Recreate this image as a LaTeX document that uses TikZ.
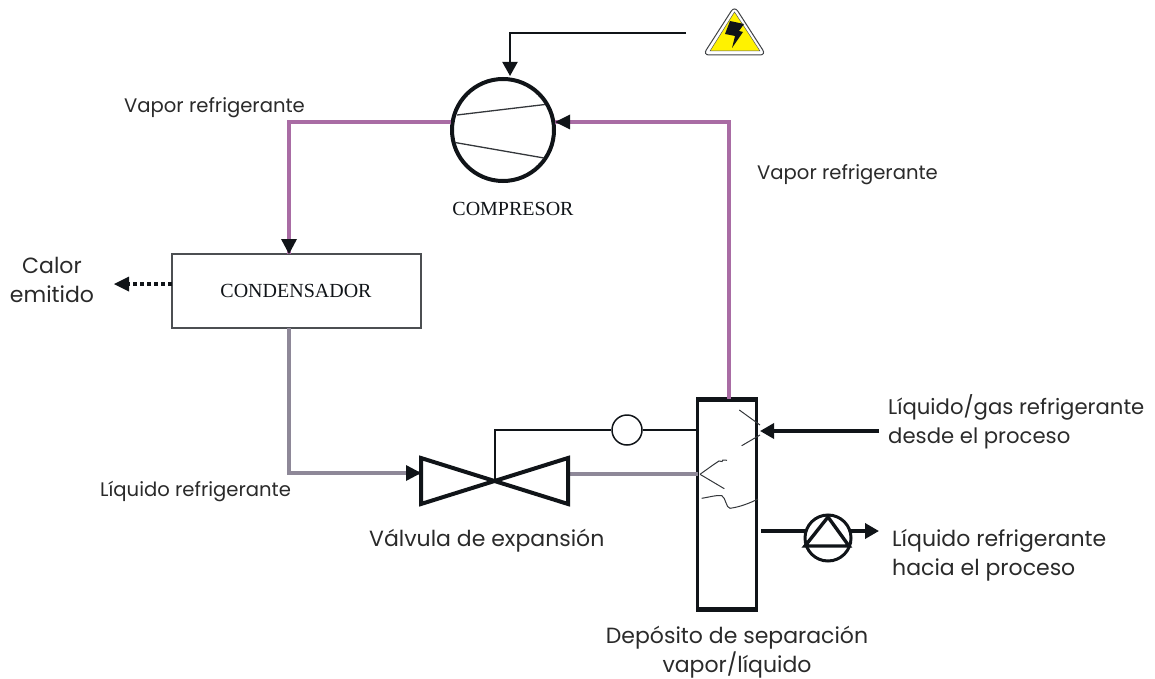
\documentclass[tikz,border=0pt]{standalone}
\usepackage{fontspec}
\setmainfont{Poppins}
\newfontfamily\serifx{Liberation Serif}
\usetikzlibrary{arrows.meta}
\definecolor{vap}{HTML}{A96CA4}
\definecolor{liq}{HTML}{8E8898}
\definecolor{ink}{HTML}{101418}
\definecolor{txt}{HTML}{2A2A2A}
\definecolor{warn}{HTML}{FFF200}
\tikzset{
  x=1pt,y=-1pt,
  tip/.style={-{Triangle[length=14pt,width=15pt]}},
  vappipe/.style={draw=vap,line width=4.6pt,line join=miter},
  liqpipe/.style={draw=liq,line width=4.6pt,line join=miter},
  signal/.style={draw=ink,line width=2pt},
  heavy/.style={draw=ink,line width=3.4pt},
  fine/.style={draw=ink!85,line width=1pt},
  lab/.style={text=txt,inner sep=0pt,font=\fontsize{19.6}{19.6}\selectfont},
  lab2/.style={text=txt,inner sep=0pt,align=left,font=\fontsize{22}{29}\selectfont},
  labsf/.style={text=ink,inner sep=0pt,font=\serifx\fontsize{20}{20}\selectfont},
}
\begin{document}
\begin{tikzpicture}
\useasboundingbox (0,0) rectangle (1155,679);
% nodes
\node[circle,draw=ink,line width=4pt,minimum size=102pt,inner sep=0pt] (comp) at (503,130) {};
\node[rectangle,draw=ink!75,line width=1.4pt,minimum width=249pt,minimum height=74pt,inner sep=0pt] (cond) at (296.5,291) {};
\node[labsf] (condt) at (296,291) {CONDENSADOR};
\node[labsf] (compt) at (513,209) {COMPRESOR};
\node[rectangle,draw=ink,line width=2.6pt,minimum width=59pt,minimum height=208pt,inner sep=0pt] (tank) at (727,504.5) {};
\node[circle,draw=ink,line width=1.5pt,minimum size=30pt,inner sep=0pt] (gauge) at (627,430) {};
\node[circle,draw=ink,line width=3pt,minimum size=46pt,inner sep=0pt] (pump) at (828,538) {};
% named free ends
\coordinate (vTL) at (421,458);
\coordinate (vBL) at (421,504);
\coordinate (vTR) at (568,458);
\coordinate (vBR) at (568,504);
\coordinate (vC) at (495,481);
\coordinate (power) at (686,33.5);
\coordinate (pwrdown) at (510,76);
\coordinate (cl) at (451,122);
\coordinate (cr) at (555,122);
\coordinate (cbend) at (289,122);
\coordinate (cin) at (289,254);
\coordinate (rbend) at (729,122);
\coordinate (ttop) at (729,401);
\coordinate (cout) at (289,328);
\coordinate (lbend) at (289,473);
\coordinate (vin) at (421,473);
\coordinate (vout) at (568,474);
\coordinate (tin) at (698,474);
\coordinate (feed) at (879,431);
\coordinate (feedend) at (760,431);
\coordinate (outs) at (761,531);
\coordinate (outa) at (805,531);
\coordinate (outb) at (851,531);
\coordinate (oute) at (879,531);
\coordinate (heat) at (114,284);
\coordinate (heats) at (172,284);
% compressor vanes
\draw[fine,line width=1.3pt] (457,115) -- (545,104.5);
\draw[fine,line width=1.3pt] (455,142.5) -- (544,158);
% pipes
\draw[vappipe] (cl) -- (cbend) -- (cin);
\draw[vappipe] (cr) -- (rbend) -- (ttop);
\draw[liqpipe] (cout) -- (lbend) -- (vin);
\draw[liqpipe] (vout) -- (tin);
% arrowheads
\fill[ink] (289,254) -- (281,239) -- (297,239) -- cycle;
\fill[ink] (555,122) -- (570,114.5) -- (570,129.5) -- cycle;
\fill[ink] (421,473) -- (406,465) -- (406,481) -- cycle;
% power
\draw[signal,tip] (power) -| (pwrdown);
% heat
\draw[draw=ink,line width=3.8pt,dash pattern=on 4pt off 3pt] (heats) -- (128,284);
\fill[ink] (heat) -- (129,276.5) -- (129,291.5) -- cycle;
% valve
\draw[draw=ink,line width=4pt,line join=miter] (vTL) -- (vBR) -- (vTR) -- (vBL) -- cycle;
\draw[signal] (vC) -- ++(0,-6) -- (495,430) -- (gauge.west);
\draw[signal] (gauge.east) -- (699,430);
% tank heavy caps
\draw[draw=ink,line width=4pt] (tank.north west) -- (tank.north east);
\draw[draw=ink,line width=4pt] (tank.south west) -- (tank.south east);
\draw[vappipe] (729,392) -- (729,399);
% feed
\draw[heavy,tip] (feed) -- (feedend);
% pump
\draw[heavy,line join=miter] (828,517) -- (849,546) -- (805,546) -- cycle;
\draw[heavy,line width=3.8pt] (outs) -- (outa);
\draw[heavy,line width=3.8pt,tip] (outb) -- (oute);
% internals
\draw[fine] (739.3,410) -- (760,425);
\draw[fine] (741.7,445.7) -- (760,435);
\draw[fine] (700,474.3) -- (713,465) -- (719,461) -- (722,461.5) -- (723,460) -- (727,460.3);
\draw[fine] (700,474.3) -- (724.3,488.7);
\draw[fine] (701.7,498.3) .. controls (710,497) and (716,495) .. (721.7,495.5) .. controls (726,498) and (726,508) .. (730,508.3) .. controls (740,507) and (750,503) .. (758,499);
% warning sign
\draw[draw=ink!80,line width=1pt,fill=white,rounded corners=6pt] (734.5,6) -- (766,55) -- (703,55) -- cycle;
\fill[warn,draw=ink!70,line width=.5pt] (734.5,12) -- (760,51) -- (710,51) -- cycle;
\fill[ink] (730,21) -- (744,24) -- (739,31) -- (743,32) -- (732,48) -- (735,36) -- (725,34) -- cycle;
% labels
\node[lab,anchor=west] (l1) at (124,107.5) {Vapor refrigerante};
\node[lab,anchor=west] (l2) at (757,175) {Vapor refrigerante};
\node[lab,anchor=west] (l3) at (100,491.5) {Líquido refrigerante};
\node[lab2,align=center] (l4) at (52,279.5) {Calor\\emitido};
\node[lab2,anchor=west] (l5) at (369,540.5) {Válvula de expansión};
\node[lab2,anchor=west,font=\fontsize{21.2}{29}\selectfont] (l6) at (888,422) {Líquido/gas refrigerante\\desde el proceso};
\node[lab2,anchor=west] (l7) at (892,555) {Líquido refrigerante\\hacia el proceso};
\node[lab2,align=center] (l8) at (737,652.5) {Depósito de separación\\vapor/líquido};
\end{tikzpicture}
\end{document}
